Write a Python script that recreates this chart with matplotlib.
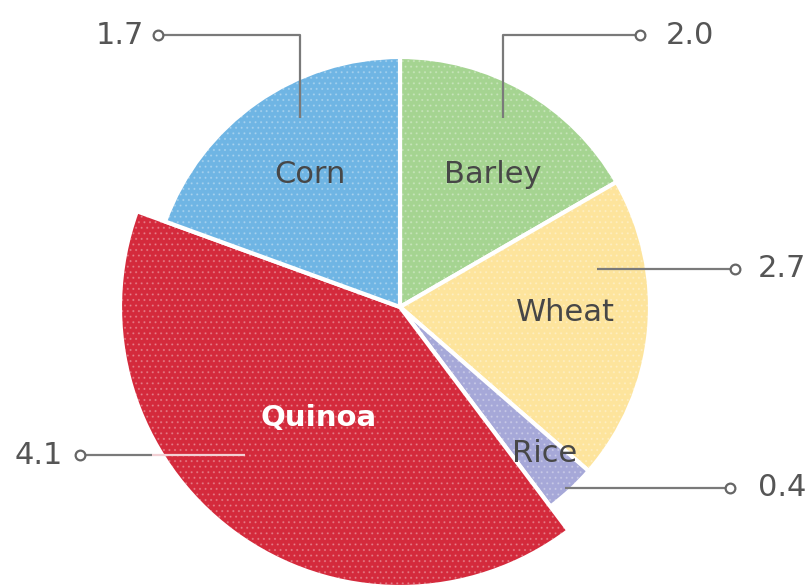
import numpy as np
import matplotlib
matplotlib.use("Agg")
from matplotlib import pyplot as plt

# slices, clockwise from 12 o'clock
names = ["Barley", "Wheat", "Rice", "Quinoa", "Corn"]
values = ["2.0", "2.7", "0.4", "4.1", "1.7"]
# slice sizes as drawn in the picture (degrees)
sizes = [60, 71, 12, 147, 70]
colors = ["#a5d491", "#fde49c", "#a6a8d8", "#d42a3c", "#6fb5e4"]

plt.rcParams['font.family'] = ['DejaVu Sans']
plt.rcParams['hatch.linewidth'] = 0.8

W, H = 812, 585
fig = plt.figure(figsize=(W / 100, H / 100), dpi=100)
ax = fig.add_axes([0, 0, 1, 1])

cx, cy = 400, H - 307
wedges, _ = ax.pie(sizes, colors=colors, startangle=90, counterclock=False,
                   center=(cx, cy), radius=250, frame=True,
                   wedgeprops=dict(edgecolor='white', linewidth=3))
# faint dot texture on top
tex, _ = ax.pie(sizes, colors=['none'] * 5, startangle=90, counterclock=False,
                center=(cx, cy), radius=250, frame=True,
                wedgeprops=dict(edgecolor=(1, 1, 1, 0.25), linewidth=0, hatch='...'))
ax.set_xlim(0, W)
ax.set_ylim(0, H)
ax.set_aspect('equal')
ax.axis('off')

# quinoa sticks out further than the rest
wedges[3].set_radius(280)
tex[3].set_radius(278)

# slice names
label_pos = {"Barley": (493, 175), "Wheat": (565, 313), "Rice": (545, 454),
             "Quinoa": (319, 418), "Corn": (310, 175)}
for n in names:
    x, y = label_pos[n]
    if n == "Quinoa":
        ax.text(x, H - y, n, color='white', fontsize=21, fontweight='bold',
                ha='center', va='center')
    else:
        ax.text(x, H - y, n, color='#474747', fontsize=22,
                ha='center', va='center')

lc = '#7a7a7a'
tc = '#555555'


def leader(xs, ys, col=lc):
    ax.plot(xs, [H - v for v in ys], color=col, lw=1.6, solid_capstyle='butt')


def dot(x, y):
    ax.plot(x, H - y, 'o', ms=7, mfc='white', mec='#666666', mew=1.6)


# Corn 1.7
leader([300, 300, 158], [118, 35, 35])
dot(158, 35)
ax.text(144, H - 35, values[4], color=tc, fontsize=22, ha='right', va='center')

# Barley 2.0
leader([503, 503, 640], [118, 35, 35])
dot(640, 35)
ax.text(666, H - 35, values[0], color=tc, fontsize=22, ha='left', va='center')

# Wheat 2.7
leader([597, 735], [269, 269])
dot(735, 269)
ax.text(758, H - 269, values[1], color=tc, fontsize=22, ha='left', va='center')

# Rice 0.4
leader([565, 730], [488, 488])
dot(730, 488)
ax.text(758, H - 488, values[2], color=tc, fontsize=22, ha='left', va='center')

# Quinoa 4.1
leader([245, 152], [455, 455], col='#f2d0d4')
leader([152, 80], [455, 455])
dot(80, 455)
ax.text(63, H - 455, values[3], color=tc, fontsize=22, ha='right', va='center')

fig.savefig('out.png', dpi=100)
